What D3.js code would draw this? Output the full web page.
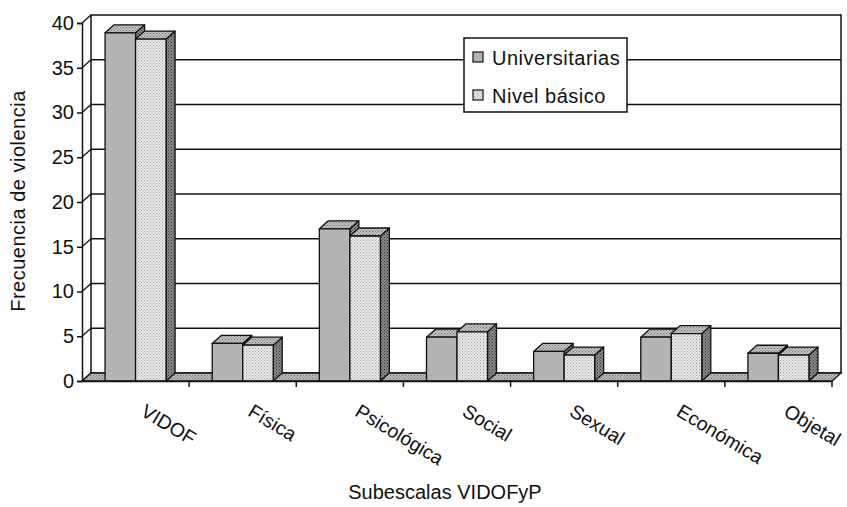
<!DOCTYPE html>
<html>
<head>
<meta charset="utf-8">
<script src="https://cdn.jsdelivr.net/npm/d3@7"></script>
<style>
  body { margin: 0; background: #fff; }
  text { font-family: "Liberation Sans", Arial, sans-serif; fill: #111; }
</style>
</head>
<body>
<svg id="chart" width="847" height="507"></svg>
<script>
// datos
const categorias = ["VIDOF", "Física", "Psicológica", "Social", "Sexual", "Económica", "Objetal"];
const series = ["Universitarias", "Nivel básico"];
const universitarias = [38.9, 4.2, 17.0, 4.9, 3.3, 4.9, 3.1];
const nivelBasico = [38.2, 4.0, 16.2, 5.5, 2.9, 5.3, 2.9];
const yTicks = [0, 5, 10, 15, 20, 25, 30, 35, 40];

const svg = d3.select("#chart");
const dx = 9, dy = 8; // profundidad 3D

const x = d3.scaleBand().domain(categorias).range([82, 832]).padding(0);
const y = d3.scaleLinear().domain([0, 40]).range([381, 23]);
const xs = d3.scaleBand().domain(series).range([-30.5, 30.5]);

// texturas punteadas
const defs = svg.append("defs");
function punteado(id, fondo, punto) {
   const p = defs.append("pattern").attr("id", id)
      .attr("width", 3).attr("height", 3).attr("patternUnits", "userSpaceOnUse");
   p.append("rect").attr("width", 3).attr("height", 3).attr("fill", fondo);
   p.append("rect").attr("width", 1).attr("height", 1).attr("fill", punto);
   p.append("rect").attr("x", 1.5).attr("y", 1.5).attr("width", 1).attr("height", 1).attr("fill", punto);
}
punteado("claro", "#ececec", "#9a9a9a");
punteado("arriba", "#c4c4c4", "#6e6e6e");
punteado("lado", "#8a8a8a", "#333");
punteado("piso", "#bdbdbd", "#666");

const frente = ["#b4b4b4", "url(#claro)"];

// pared del fondo
const x0 = x.range()[0], x1 = x.range()[1];
svg.append("rect")
   .attr("x", x0 + dx).attr("y", y(40) - dy)
   .attr("width", x1 - x0).attr("height", y(0) - y(40))
   .attr("fill", "#fff").attr("stroke", "#111").attr("stroke-width", 1.5);

// lineas de division en la pared y diagonales de la pared izquierda
yTicks.forEach(v => {
   if (v > 0 && v < 40) {
      svg.append("line")
         .attr("x1", x0 + dx).attr("x2", x1 + dx)
         .attr("y1", y(v) - dy).attr("y2", y(v) - dy)
         .attr("stroke", "#111").attr("stroke-width", 1.5);
   }
   svg.append("line")
      .attr("x1", x0).attr("y1", y(v))
      .attr("x2", x0 + dx).attr("y2", y(v) - dy)
      .attr("stroke", "#111").attr("stroke-width", 1.3);
});

// piso
svg.append("polygon")
   .attr("points", [[x0, y(0)], [x1, y(0)], [x1 + dx, y(0) - dy], [x0 + dx, y(0) - dy]].join(" "))
   .attr("fill", "url(#piso)").attr("stroke", "#111").attr("stroke-width", 1.3);

// barras 3D
categorias.forEach((c, i) => {
   const valores = [universitarias[i], nivelBasico[i]];
   series.forEach((s, j) => {
      const cx = x(c) + x.bandwidth() / 2;
      const bx = cx + xs(s), w = xs.bandwidth();
      const top = y(valores[j]), base = y(0);
      const g = svg.append("g").attr("stroke", "#111").attr("stroke-width", 1.3).attr("stroke-linejoin", "round");
      g.append("polygon")
         .attr("points", [[bx + w, top], [bx + w + dx, top - dy], [bx + w + dx, base - dy], [bx + w, base]].join(" "))
         .attr("fill", "url(#lado)");
      g.append("polygon")
         .attr("points", [[bx, top], [bx + dx, top - dy], [bx + w + dx, top - dy], [bx + w, top]].join(" "))
         .attr("fill", "url(#arriba)");
      g.append("rect")
         .attr("x", bx).attr("y", top).attr("width", w).attr("height", base - top)
         .attr("fill", frente[j]);
   });
});

// eje y
const ejeY = svg.append("g")
   .attr("transform", `translate(${x0},0)`)
   .call(d3.axisLeft(y).tickValues(yTicks).tickSize(5).tickPadding(3));
ejeY.selectAll("path, line").attr("stroke", "#111").attr("stroke-width", 1.5);
ejeY.selectAll("text").attr("font-size", 20).style("font-family", '"Liberation Sans", Arial, sans-serif').attr("fill", "#111");

// eje x
const ejeX = svg.append("g")
   .attr("transform", `translate(0,${y(0)})`)
   .call(d3.axisBottom(x).tickSize(0).tickFormat(""));
ejeX.select("path").attr("stroke", "#111").attr("stroke-width", 1.5);
categorias.forEach(c => {
   svg.append("line")
      .attr("x1", x(c) + x.bandwidth()).attr("x2", x(c) + x.bandwidth())
      .attr("y1", y(0)).attr("y2", y(0) + 6)
      .attr("stroke", "#111").attr("stroke-width", 1.5);
   const px = x(c) + x.bandwidth() / 2 + 4, py = 415;
   svg.append("text")
      .attr("transform", `translate(${px},${py}) rotate(31)`)
      .attr("font-size", 19.5)
      .text(c);
});

// titulos
svg.append("text")
   .attr("transform", "translate(25,201) rotate(-90)")
   .attr("text-anchor", "middle").attr("font-size", 20).attr("letter-spacing", 0.5)
   .text("Frecuencia de violencia");
svg.append("text")
   .attr("x", 445).attr("y", 499)
   .attr("text-anchor", "middle").attr("font-size", 20)
   .text("Subescalas VIDOFyP");

// leyenda
const ley = svg.append("g");
ley.append("rect")
   .attr("x", 464).attr("y", 38).attr("width", 163).attr("height", 74)
   .attr("fill", "#fff").attr("stroke", "#111").attr("stroke-width", 1.5);
series.forEach((s, j) => {
   const yy = 52 + j * 38;
   ley.append("rect")
      .attr("x", 473).attr("y", yy).attr("width", 10).attr("height", 10)
      .attr("fill", frente[j]).attr("stroke", "#111").attr("stroke-width", 1.2);
   ley.append("text")
      .attr("x", 492).attr("y", yy + 13)
      .attr("font-size", 20).attr("letter-spacing", 0.5)
      .text(s);
});
</script>
</body>
</html>
